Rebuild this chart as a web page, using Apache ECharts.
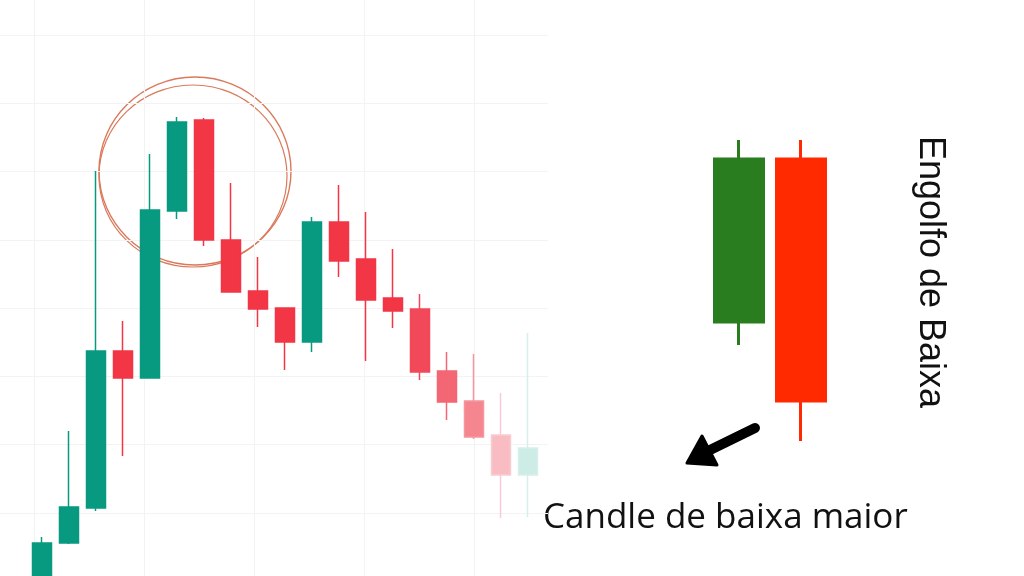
<!DOCTYPE html>
<html>
<head>
<meta charset="utf-8">
<script src="https://cdn.jsdelivr.net/npm/echarts@6/dist/echarts.min.js"></script>
<style>
html,body{margin:0;padding:0;background:#fff;}
#chart{width:1024px;height:576px;}
</style>
</head>
<body>
<div id="chart"></div>
<script>
// ---- data ----
const sessions = ['1','2','3','4','5','6','7','8','9','10','11','12','13','14','15','16','17','18','19'];
const opens  = [-24, 33, 68, 225, 198, 365, 456, 336, 285, 268, 234, 354, 317, 278, 267, 205, 175, 141, 101];
const closes = [ 33, 69, 225, 198, 366, 454, 336, 284, 267, 234, 354, 315, 276, 265, 204, 174, 139, 101, 128];
const lows   = [-30, 32, 65, 120, 198, 357, 330, 284, 249, 206, 224, 299, 215, 248, 196, 156, 137, 58, 59];
const highs  = [ 39, 145, 405, 255, 422, 459, 458, 393, 319, 268, 359, 391, 364, 327, 282, 224, 222, 183, 243];

const patternLabels = ['Alta', 'Baixa'];
const patternOpens  = [254, 417];
const patternCloses = [417, 175];
const patternLows   = [231, 135];
const patternHighs  = [436, 436];

const titleText = 'Engolfo de Baixa';
const captionText = 'Candle de baixa maior';

// ---- styles ----
const UP = '#089981', DOWN = '#f23645';
// fading of the latest candles (index -> [body, wick])
const fade = {
  14: ['#f1495a', '#f1495a'],
  15: ['#f36674', '#f36674'],
  16: ['#f5858f', '#f5959e'],
  17: ['#f9bcc3', '#f7cdd2'],
  18: ['#cdece5', '#d6efea']
};

const mainData = sessions.map((s, i) => {
  const item = { value: [opens[i], closes[i], lows[i], highs[i]] };
  if (fade[i]) {
    item.itemStyle = {
      color: fade[i][0], color0: fade[i][0],
      borderColor: fade[i][1], borderColor0: fade[i][1]
    };
  }
  return item;
});
const patternData = patternLabels.map((s, i) => [patternOpens[i], patternCloses[i], patternLows[i], patternHighs[i]]);

const chart = echarts.init(document.getElementById('chart'), null, { renderer: 'canvas' });

const hiddenAxis = {
  show: true,
  axisLine: { show: false }, axisTick: { show: false }, axisLabel: { show: false },
  splitLine: { show: false }
};

chart.setOption({
  backgroundColor: '#ffffff',
  animation: false,
  grid: [
    { left: 28.5, width: 513, top: 0, height: 576 },          // main chart
    { left: 708, width: 124, top: 0, height: 576 },           // pattern illustration
    { left: 34, width: 440, top: 0, height: 576 },            // faint vertical grid
    { left: 0, width: 548, top: 35, height: 478 }             // faint horizontal grid
  ],
  xAxis: [
    Object.assign({ type: 'category', gridIndex: 0, data: sessions, boundaryGap: true }, hiddenAxis),
    Object.assign({ type: 'category', gridIndex: 1, data: patternLabels, boundaryGap: true }, hiddenAxis),
    Object.assign({}, hiddenAxis, { type: 'value', gridIndex: 2, min: 0, max: 4, interval: 1,
      splitLine: { show: true, lineStyle: { color: '#f3f3f3', width: 1 } } }),
    Object.assign({}, hiddenAxis, { type: 'value', gridIndex: 3, min: 0, max: 1 })
  ],
  yAxis: [
    Object.assign({ type: 'value', gridIndex: 0, min: 0, max: 576 }, hiddenAxis),
    Object.assign({ type: 'value', gridIndex: 1, min: 0, max: 576 }, hiddenAxis),
    Object.assign({ type: 'value', gridIndex: 2, min: 0, max: 1 }, hiddenAxis),
    Object.assign({}, hiddenAxis, { type: 'value', gridIndex: 3, min: 0, max: 7, interval: 1,
      splitLine: { show: true, lineStyle: { color: '#f3f3f3', width: 1 } } })
  ],
  series: [
    {
      type: 'candlestick',
      xAxisIndex: 0, yAxisIndex: 0,
      barWidth: 19,
      clip: true,
      itemStyle: { color: UP, color0: DOWN, borderColor: UP, borderColor0: DOWN, borderWidth: 1.5 },
      data: mainData
    },
    {
      type: 'candlestick',
      xAxisIndex: 1, yAxisIndex: 1,
      barWidth: 50,
      itemStyle: { color: '#2a7d1f', color0: '#ff2a00', borderColor: '#2a7d1f', borderColor0: '#ff2a00', borderWidth: 3 },
      data: patternData
    }
  ],
  graphic: [
    { type: 'ellipse', shape: { cx: 195, cy: 171, rx: 96, ry: 94 },
      style: { fill: 'none', stroke: '#d97a5c', lineWidth: 1.4 } },
    { type: 'ellipse', shape: { cx: 193, cy: 176, rx: 94, ry: 91 }, rotation: 0,
      style: { fill: 'none', stroke: '#d97a5c', lineWidth: 1.2 } },
    { type: 'polyline', shape: { points: [[755, 428], [708, 451]] },
      style: { stroke: '#000', lineWidth: 10, lineCap: 'round', fill: 'none' } },
    { type: 'polygon', shape: { points: [[687, 463], [702, 436], [717, 465]] },
      style: { fill: '#000', stroke: '#000', lineWidth: 3, lineJoin: 'round' } },
    { type: 'text', x: 543, y: 518,
      style: { text: captionText, x: 0, y: 0, fill: '#111', font: '35px "Open Sans"',
        align: 'left', verticalAlign: 'middle', textAlign: 'left', textVerticalAlign: 'middle' } },
    { type: 'text', x: 930, y: 272, rotation: -Math.PI / 2,
      style: { text: titleText, x: 0, y: 0, fill: '#111', font: '36px "Liberation Sans"',
        align: 'center', verticalAlign: 'middle', textAlign: 'center', textVerticalAlign: 'middle' } }
  ]
});
</script>
</body>
</html>
